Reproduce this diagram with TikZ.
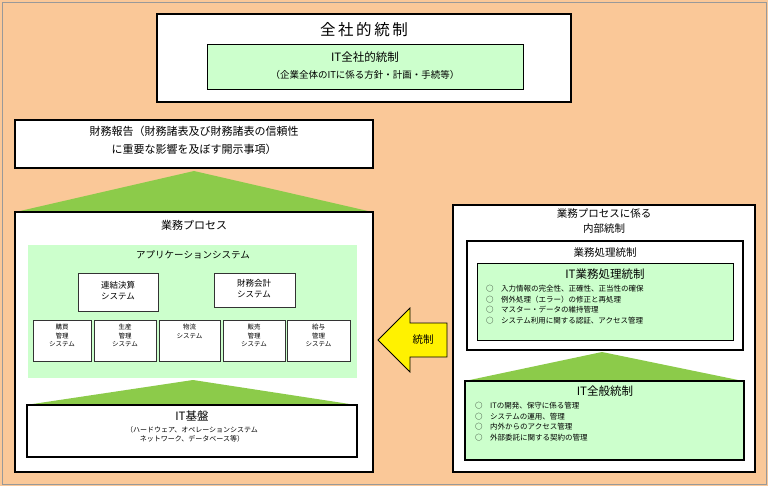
\documentclass[tikz,border=0pt]{standalone}
\usepackage{fontspec}
\setmainfont{Noto Sans CJK JP}
\definecolor{bg}{HTML}{FAC898}
\definecolor{lg}{HTML}{CCFFCC}
\definecolor{dg}{HTML}{8CCB4A}
\begin{document}
\begin{tikzpicture}[x=1pt,y=-1pt,
 thick box/.style={draw=black,line width=2.8pt,fill=white},
 thin box/.style={draw=black!80,line width=1pt,fill=white},
 green box/.style={draw=black,line width=1pt,fill=lg},
 tri/.style={fill=dg,draw=none},
 t/.style={inner sep=0pt,align=center},
 item/.style={inner sep=0pt,align=left,anchor=west,font=\fontsize{7.5}{8.5}\selectfont}]
\useasboundingbox (0,0) rectangle (768,486);
\fill[bg] (0,0) rectangle (768,486);
\draw[black!40,line width=0.8pt] (2,2) rectangle (766,484);
% top
\draw[thick box] (157,14) rectangle (571,102);
\node[t,font=\fontsize{15.5}{18}\selectfont] (zen) at (364,30) {全\,社\,的\,統\,制};
\draw[green box] (207,45) rectangle (523,90);
\node[t,font=\fontsize{11.5}{13}\selectfont] (itz) at (365,57) {IT全社的統制};
\node[t,font=\fontsize{9.5}{11}\selectfont] (itz2) at (365,75) {（企業全体のITに係る方針・計画・手続等）};
% financial report
\draw[thick box] (15,120) rectangle (373,168);
\node[t,font=\fontsize{11}{18}\selectfont] (zaimu) at (194,140) {財務報告（財務諸表及び財務諸表の信頼性\\に重要な影響を及ぼす開示事項）};
\fill[tri] (194,171) -- (368,211) -- (20,211) -- cycle;
% business process
\draw[thick box] (15,212) rectangle (373,472);
\node[t,font=\fontsize{11}{13}\selectfont] (gyomu) at (194,225) {業務プロセス};
\fill[lg] (28,245) rectangle (357,378);
\node[t,font=\fontsize{9.5}{11}\selectfont] (app) at (193,255) {アプリケーションシステム};
\draw[thin box] (78,274) rectangle (158,311);
\node[t,font=\fontsize{8.5}{11}\selectfont] (renketsu) at (118,291) {連結決算\\システム};
\draw[thin box] (214,274) rectangle (295,307);
\node[t,font=\fontsize{8.5}{11}\selectfont] (zaimukaikei) at (254,289) {財務会計\\システム};
\foreach \a/\b/\txt/\n in {33/91/購買\\管理\\システム/s1,94/156/生産\\管理\\システム/s2,159/220/物流\\システム/s3,223/285/販売\\管理\\システム/s4,287/350/給与\\管理\\システム/s5}{
 \draw[thin box] (\a,320) rectangle (\b,361);
 \node[t,font=\fontsize{6.5}{8.5}\selectfont,anchor=north] (\n) at ({(\a+\b)/2},324) {\txt};
}
\fill[tri] (193,380) -- (356,405) -- (26,405) -- cycle;
\draw[thick box] (27,405) rectangle (357,457);
\node[t,font=\fontsize{11.5}{13}\selectfont] (kiban) at (192,416) {IT基盤};
\node[t,font=\fontsize{7}{9}\selectfont] (kiban2) at (192,434) {（ハードウェア、オペレーションシステム\\ネットワーク、データベース等）};
% right
\draw[draw=black,line width=1.8pt,fill=white] (453,205) rectangle (755,472);
\node[t,font=\fontsize{10.5}{15}\selectfont] (naibu) at (604,221) {業務プロセスに係る\\内部統制};
\draw[thick box] (467,241) rectangle (743,350);
\node[t,font=\fontsize{10.5}{12}\selectfont] (shori) at (605,253) {業務処理統制};
\draw[green box] (477,264) rectangle (733,340);
\node[t,font=\fontsize{11.5}{13}\selectfont] (itshori) at (605,274) {IT業務処理統制};
\node[item] (i1) at (486,289) {○\quad 入力情報の完全性、正確性、正当性の確保};
\node[item] (i2) at (486,299.5) {○\quad 例外処理（エラー）の修正と再処理};
\node[item] (i3) at (486,310) {○\quad マスター・データの維持管理};
\node[item] (i4) at (486,320.5) {○\quad システム利用に関する認証、アクセス管理};
\fill[tri] (602,352) -- (743,381) -- (465,381) -- cycle;
\draw[thick box,fill=lg] (465,381) rectangle (744,460);
\node[t,font=\fontsize{11.5}{13}\selectfont] (zenpan) at (605,391) {IT全般統制};
\node[item] (j1) at (475,406) {○\quad ITの開発、保守に係る管理};
\node[item] (j2) at (475,416.5) {○\quad システムの運用、管理};
\node[item] (j3) at (475,427) {○\quad 内外からのアクセス管理};
\node[item] (j4) at (475,437.5) {○\quad 外部委託に関する契約の管理};
% arrow
\draw[fill=yellow,draw=black,line width=0.8pt] (447,323) -- (410,323) -- (410,308) -- (378,340) -- (410,372) -- (410,357) -- (447,357) -- cycle;
\node[t,font=\fontsize{10.5}{12}\selectfont] (tosei) at (423,340) {統制};
\end{tikzpicture}
\end{document}
